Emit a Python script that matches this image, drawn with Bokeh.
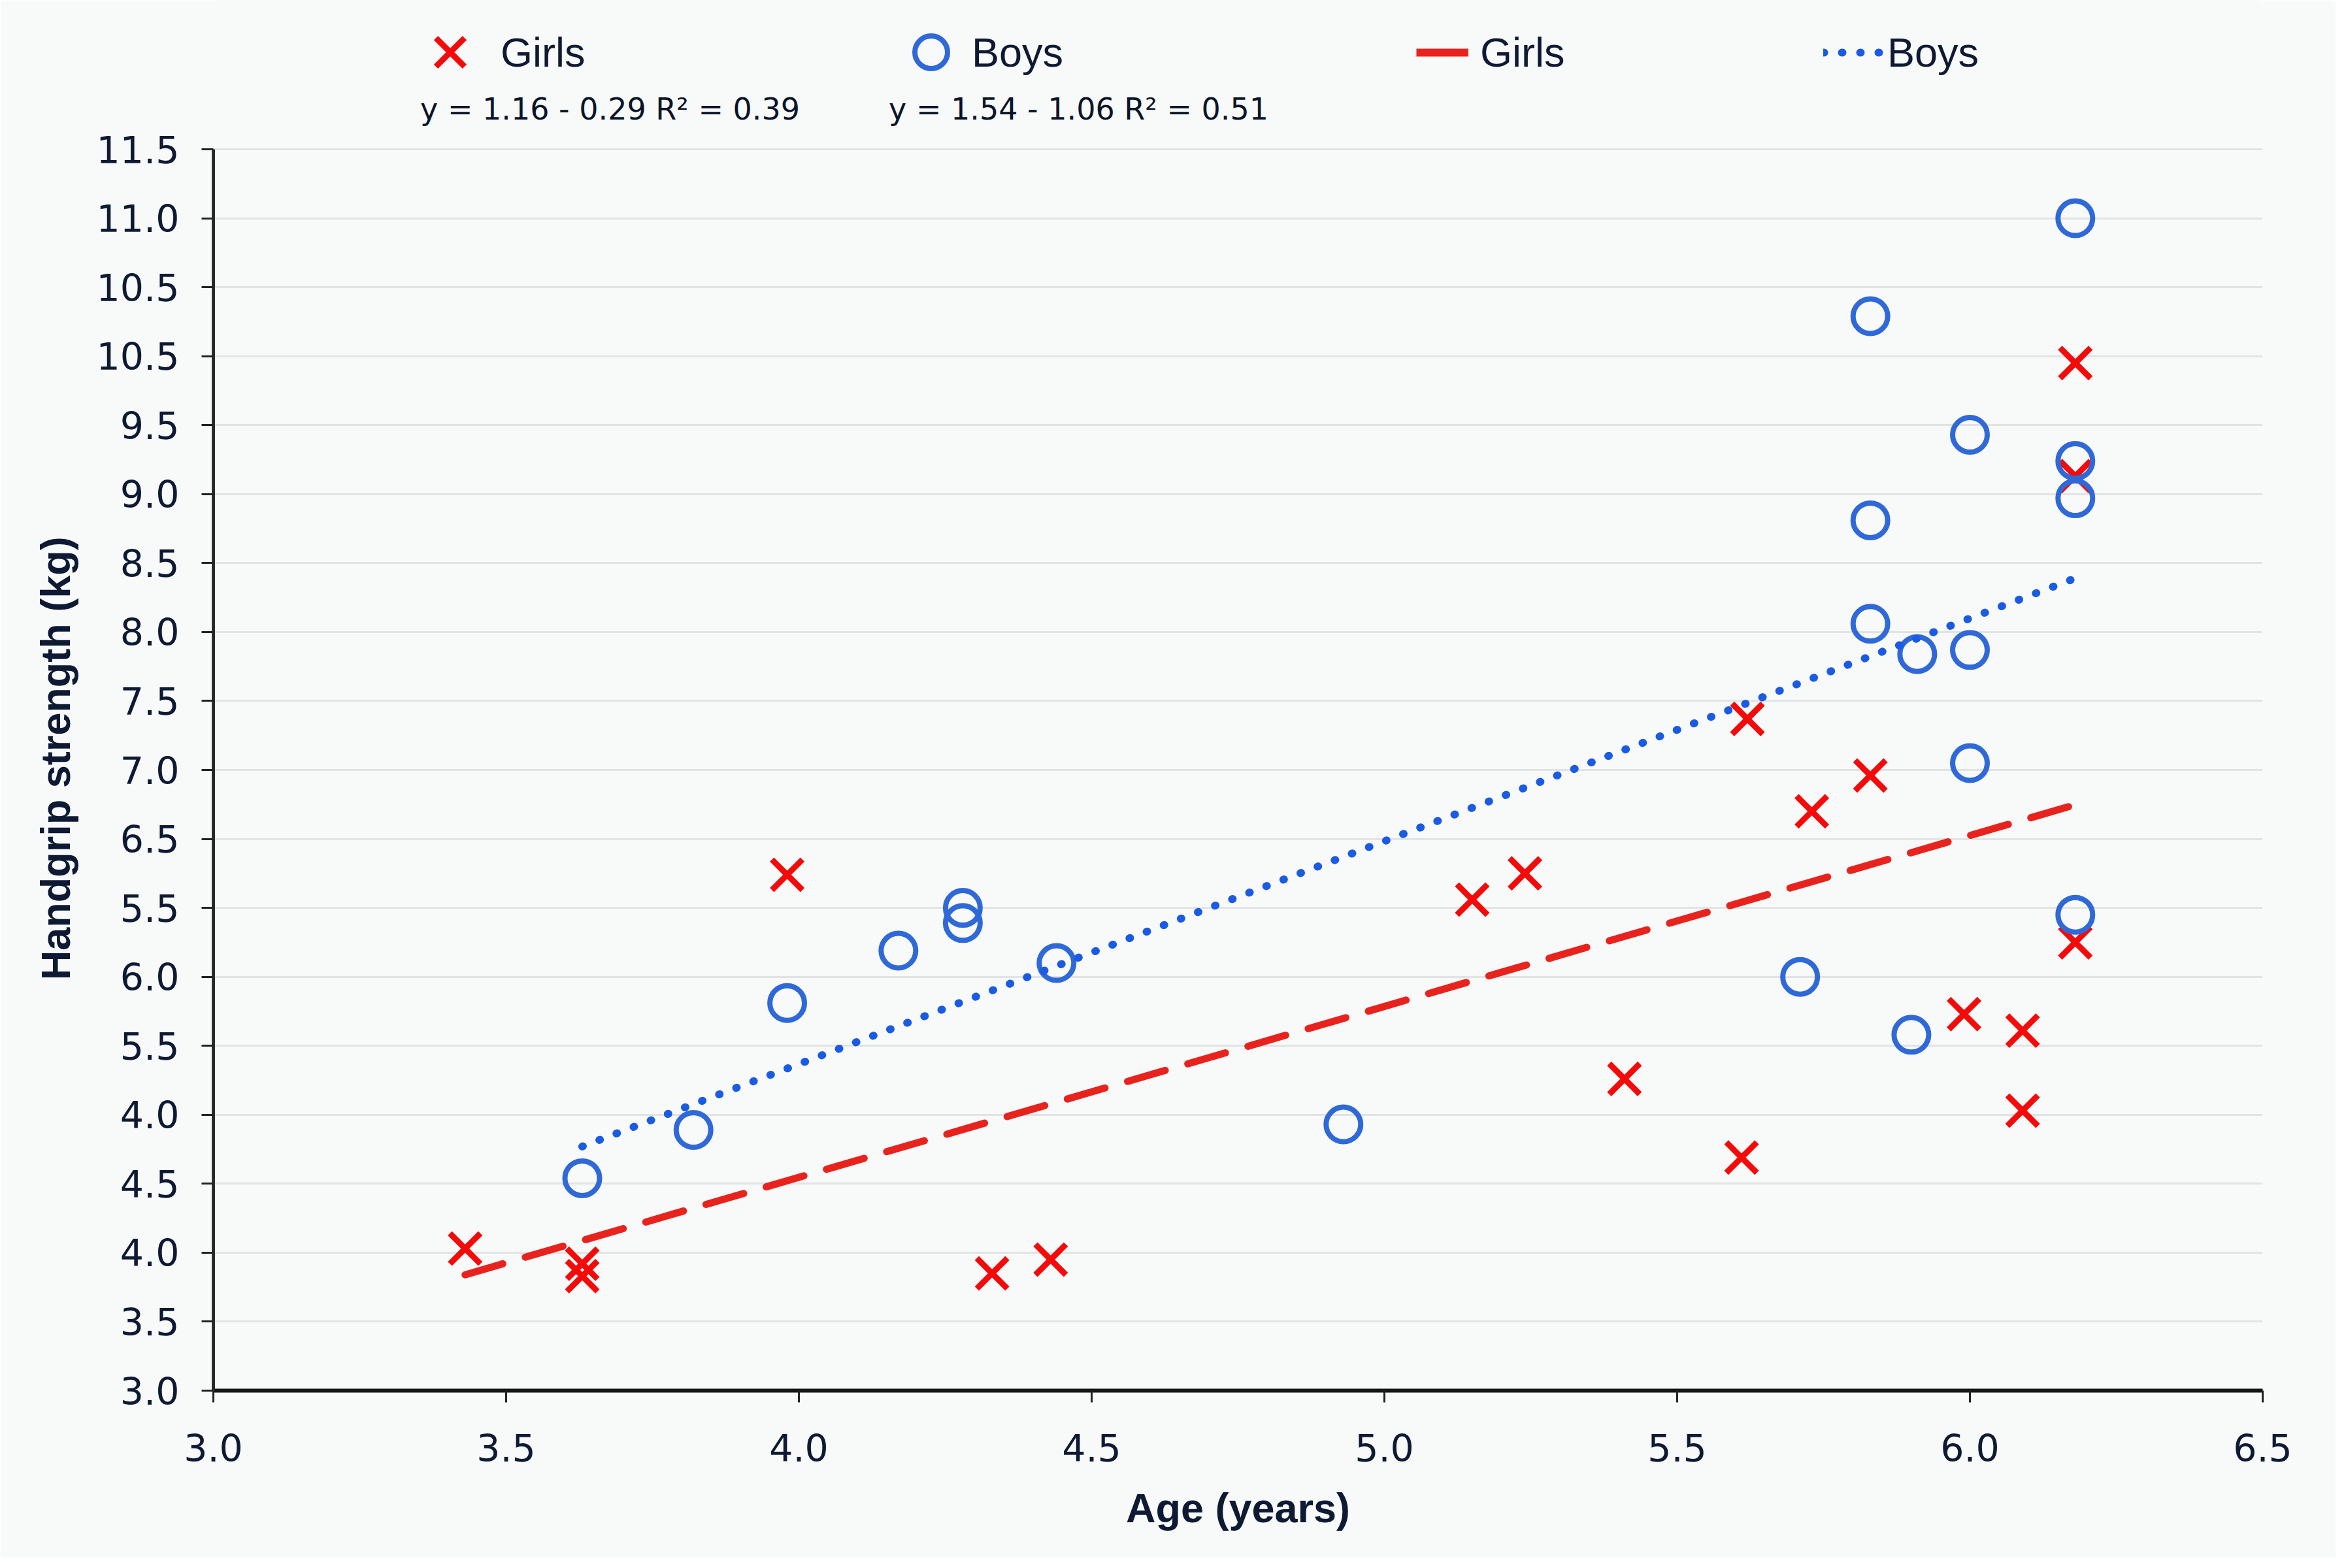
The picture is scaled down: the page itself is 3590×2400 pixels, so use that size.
import math
from bokeh.plotting import figure
from bokeh.models import Legend, LegendItem, Label, FixedTicker, Range1d
from bokeh.embed import file_html
from bokeh.resources import INLINE

# ---------------- data ----------------
girls_age = [3.43, 3.63, 3.63, 3.98, 4.33, 4.43, 5.15, 5.24, 5.41, 5.61,
             5.62, 5.73, 5.83, 5.99, 6.09, 6.09, 6.18, 6.18, 6.18]
girls_grip = [4.03, 3.92, 3.83, 6.74, 3.85, 3.95, 6.56, 6.75, 5.26, 4.69,
              7.87, 7.20, 7.46, 5.73, 5.61, 5.03, 10.45, 9.63, 6.25]

boys_age = [3.63, 3.82, 3.98, 4.17, 4.28, 4.28, 4.44, 4.93, 5.71, 5.83,
            5.83, 5.83, 5.91, 5.90, 6.00, 6.00, 6.00, 6.18, 6.18, 6.18, 6.18]
boys_grip = [4.54, 4.89, 5.81, 6.19, 6.50, 6.39, 6.10, 4.93, 6.00, 10.79,
             9.31, 8.56, 8.34, 5.58, 9.93, 8.37, 7.55, 11.50, 9.74, 9.47, 6.45]

girls_trend_age = [3.43, 6.19]
girls_trend_grip = [3.84, 7.26]
boys_trend_age = [3.63, 6.18]
boys_trend_grip = [4.77, 8.89]

x_ticks = [3.0, 3.5, 4.0, 4.5, 5.0, 5.5, 6.0, 6.5]
y_ticks = [3.0, 3.5, 4.0, 4.5, 5.0, 5.5, 6.0, 6.5, 7.0, 7.5, 8.0, 8.5,
           9.0, 9.5, 10.0, 10.5, 11.0, 11.5, 12.0]
y_tick_labels = ["3.0", "3.5", "4.0", "4.5", "4.0", "5.5", "6.0", "5.5", "6.5",
                 "7.0", "7.5", "8.0", "8.5", "9.0", "9.5", "10.5", "10.5",
                 "11.0", "11.5"]

eq_girls = "y = 1.16 - 0.29 R\u00b2 = 0.39"
eq_boys = "y = 1.54 - 1.06 R\u00b2 = 0.51"

# ---------------- styling ----------------
RED = "#f50a0a"
RED_LINE = "#e8231d"
BLUE = "#2f69d8"
BLUE_LINE = "#1a5be3"
TEXT = "#0e1a33"
BG = "#f8f9f9"

Y_MIN, Y_MAX = y_ticks[0], y_ticks[-1]
# frame extends to the top of the figure so that the legend row lies inside it
PX_PER_UNIT = 1900 / (Y_MAX - Y_MIN)
Y_TOP = Y_MAX + 228 / PX_PER_UNIT

p = figure(width=3574, height=2384, output_backend="svg", toolbar_location=None,
           x_range=Range1d(x_ticks[0], x_ticks[-1]), y_range=Range1d(Y_MIN, Y_TOP),
           min_border_left=326, min_border_right=112,
           min_border_top=0, min_border_bottom=256)
p.background_fill_color = BG
p.border_fill_color = BG
p.outline_line_color = None

p.xgrid.visible = False
p.ygrid.grid_line_color = "#e2e3e4"
p.ygrid.grid_line_width = 3

p.xaxis.ticker = FixedTicker(ticks=x_ticks)
p.yaxis.ticker = FixedTicker(ticks=y_ticks)
p.yaxis.bounds = (Y_MIN, Y_MAX)
p.yaxis.major_label_overrides = {t: l for t, l in zip(y_ticks, y_tick_labels)}
p.xaxis.major_label_overrides = {t: f"{t:.1f}" for t in x_ticks}

for ax in (p.xaxis, p.yaxis):
    ax.minor_tick_line_color = None
    ax.major_tick_in = 0
    ax.major_tick_out = 18
    ax.major_tick_line_width = 3
    ax.major_tick_line_color = "#222222"
    ax.major_label_text_font = "DejaVu Sans"
    ax.major_label_text_font_size = "57px"
    ax.major_label_text_color = TEXT
    ax.axis_label_text_font = "Liberation Sans"
    ax.axis_label_text_font_style = "bold"
    ax.axis_label_text_font_size = "63px"
    ax.axis_label_text_color = TEXT

p.xaxis.axis_line_width = 6
p.xaxis.axis_line_color = "#151515"
p.yaxis.axis_line_width = 5
p.yaxis.axis_line_color = "#2a2a2a"
p.xaxis.major_label_standoff = 48
p.yaxis.major_label_standoff = 34
p.xaxis.axis_label = "Age (years)"
# trailing no-break spaces shift the centred title down to the axis' own span
p.yaxis.axis_label = "Handgrip strength (kg)" + "\u00a0" * 11
p.xaxis.axis_label_standoff = 33
p.yaxis.axis_label_standoff = 25

# ---------------- glyphs ----------------
r_girls = p.scatter(girls_age, girls_grip, marker="x", size=66,
                    line_color=RED, line_width=9)
r_boys = p.scatter(boys_age, boys_grip, marker="circle", size=53,
                   fill_color=None, line_color=BLUE, line_width=8)
r_gt = p.line(girls_trend_age, girls_trend_grip, line_color=RED_LINE,
              line_width=11, line_dash="60 36", line_cap="round")
r_bt = p.line(boys_trend_age, boys_trend_grip, line_color=BLUE_LINE,
              line_width=12, line_dash="1 27", line_cap="round")
# legend-only solid line for the girls trend sample
r_gt_leg = p.line([math.nan], [math.nan], line_color=RED_LINE, line_width=12)


def add_legend(label, renderer, vx, vy, gw, gh, standoff):
    leg = Legend(items=[LegendItem(label=label, renderers=[renderer])],
                 location=(vx, vy), orientation="horizontal",
                 glyph_width=gw, glyph_height=gh, label_height=gh,
                 label_standoff=standoff, padding=0, margin=0, spacing=0,
                 border_line_color=None, background_fill_alpha=0,
                 label_text_font="Liberation Sans", label_text_font_size="63px",
                 label_text_color=TEXT)
    p.add_layout(leg)


add_legend("Girls", r_girls, 285, 1971, 155, 155, -16)
add_legend("Boys", r_boys, 1036, 1986, 125, 125, -10)
add_legend("Girls", r_gt_leg, 1841, 2012, 80, 60, 18)
add_legend("Boys", r_bt, 2464, 2012, 92, 60, 6)

for txt, xs in ((eq_girls, 607), (eq_boys, 1324)):
    p.add_layout(Label(x=xs, y=1962, x_units="screen", y_units="screen",
                       text=txt, text_align="center", text_baseline="middle",
                       text_font="DejaVu Sans", text_font_size="46px",
                       text_color="#0a1428"))

open("out.html", "w").write(file_html(p, INLINE))
